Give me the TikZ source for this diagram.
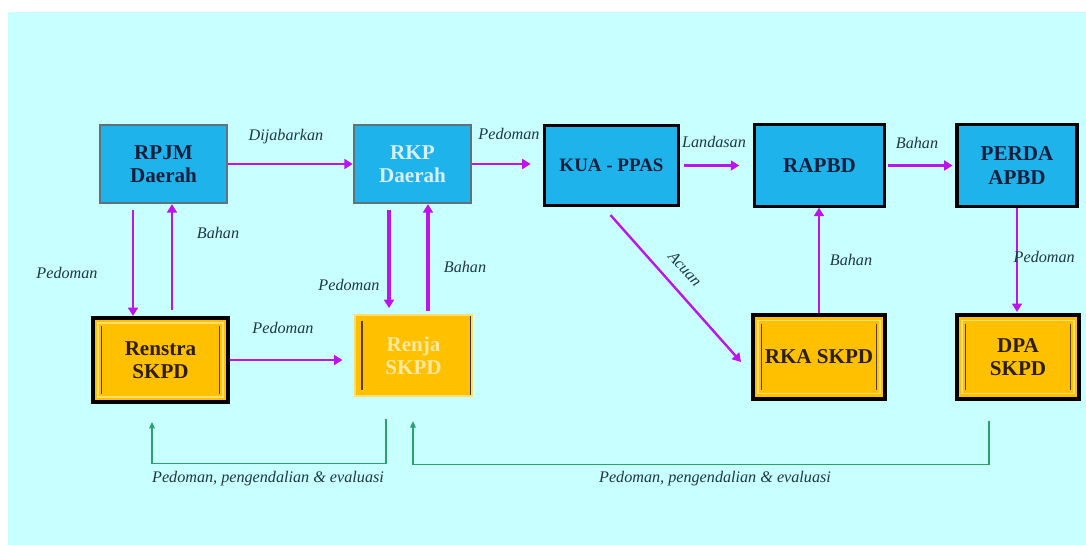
\documentclass[tikz,border=0pt]{standalone}
\usepackage{fontspec}
\setmainfont{Liberation Serif}
\usetikzlibrary{arrows.meta,positioning,calc}

\definecolor{bgcyan}{RGB}{200,255,255}
\definecolor{boxblue}{RGB}{30,180,235}
\definecolor{boxgold}{RGB}{255,192,0}
\definecolor{bevelgray}{RGB}{95,115,125}
\definecolor{flowmag}{RGB}{190,20,235}
\definecolor{ctrlgreen}{RGB}{45,160,110}
\definecolor{labelink}{RGB}{30,55,70}
\definecolor{navyink}{RGB}{20,30,60}
\definecolor{rkpink}{RGB}{215,240,255}
\definecolor{skpdink}{RGB}{45,30,5}
\definecolor{renjaink}{RGB}{255,232,160}
\definecolor{skpdrim}{RGB}{255,222,110}
\definecolor{skpdline}{RGB}{90,60,0}

\newcommand{\ppbfont}{\fontsize{15}{16.5}\selectfont\bfseries}
\newcommand{\pplfont}{\fontsize{11.5}{13}\selectfont\itshape}

\begin{document}
\begin{tikzpicture}[x=0.025cm, y=-0.025cm,
  topbox/.style={rectangle, fill=boxblue, align=center, inner sep=0pt,
                 font=\ppbfont, text=navyink},
  bevelbox/.style={topbox, draw=bevelgray, line width=1.6pt},
  kuabox/.style={topbox, draw=black, line width=2.2pt},
  skpdbox/.style={rectangle, fill=boxgold, draw=black, line width=2.8pt,
                  align=center, inner sep=0pt, font=\ppbfont, text=skpdink,
    path picture={
      \draw[skpdrim, line width=1pt]
        ([shift={(3.5pt,-3.5pt)}]path picture bounding box.north west) rectangle
        ([shift={(-3.5pt,3.5pt)}]path picture bounding box.south east);
      \draw[skpdline, line width=1pt]
        ([shift={(6pt,-6pt)}]path picture bounding box.north west) --
        ([shift={(6pt,6pt)}]path picture bounding box.south west);
      \draw[skpdline, line width=1pt]
        ([shift={(-6pt,-6pt)}]path picture bounding box.north east) --
        ([shift={(-6pt,6pt)}]path picture bounding box.south east);
    }},
  renjabox/.style={rectangle, fill=boxgold, draw=skpdrim, line width=1.6pt,
                   align=center, inner sep=0pt, font=\ppbfont, text=renjaink,
    path picture={
      \draw[skpdline, line width=1.2pt]
        ([shift={(5pt,-4pt)}]path picture bounding box.north west) --
        ([shift={(5pt,4pt)}]path picture bounding box.south west);
      \draw[black!80, line width=1.4pt]
        ([shift={(-1pt,0pt)}]path picture bounding box.north east) --
        ([shift={(-1pt,0pt)}]path picture bounding box.south east);
    }},
  flow/.style={draw=flowmag, line width=1.7pt, -{Triangle[length=6pt,width=7pt]}},
  bigflow/.style={flow, line width=2.4pt},
  ctrl/.style={draw=ctrlgreen, line width=0.8pt, -{Triangle[length=4.5pt,width=4pt]}},
  lbl/.style={font=\pplfont, text=labelink, inner sep=1pt},
]
  % Canvas
  \useasboundingbox (0,0) rectangle (1086,545);
  \fill[white] (0,0) rectangle (1086,545);
  \fill[bgcyan] (8,12) rectangle (1086,545);

  % Row y-coordinates
  \def\ytop{164}
  \def\ybot{357}

  % Planning documents (top row)
  \node[bevelbox, minimum width=3.18cm, minimum height=1.95cm] (rpjm) at (163.5,\ytop) {RPJM\\ Daerah};
  \node[bevelbox, text=rkpink, minimum width=2.93cm, minimum height=1.95cm] (rkp) at (412.5,\ytop) {RKP\\ Daerah};
  \node[kuabox, font=\fontsize{13.5}{15}\selectfont\bfseries, minimum width=3.33cm, minimum height=2.0cm] (kua) at (611.5,165.5) {KUA - PPAS};
  \node[kuabox, minimum width=3.23cm, minimum height=2.03cm] (rapbd) at (819.5,165.5) {RAPBD};
  \node[kuabox, minimum width=3.0cm, minimum height=2.03cm] (perda) at (1017,165.5) {PERDA\\ APBD};

  % SKPD documents (bottom row)
  \node[skpdbox, minimum width=3.38cm, minimum height=2.1cm] (renstra) at (160.5,360) {Renstra\\ SKPD};
  \node[renjabox, minimum width=2.93cm, minimum height=2.03cm] (renja) at (413.5,355.5) {Renja\\ SKPD};
  \node[skpdbox, minimum width=3.3cm, minimum height=2.08cm] (rka) at (819,\ybot) {RKA SKPD};
  \node[skpdbox, minimum width=3.05cm, minimum height=2.08cm] (dpa) at (1018,\ybot) {DPA\\ SKPD};

  % Top row flow
  \draw[flow] (rpjm) -- (rkp);
  \draw[flow, shorten >=9pt] (rkp.east) -- (rkp.east -| kua.west);
  \draw[flow, shorten <=3pt, shorten >=10pt] (kua) -- (rapbd);
  \draw[flow, shorten <=2pt, shorten >=2pt] (rapbd) -- (perda);

  % RPJM <-> Renstra
  \draw[flow, shorten <=4pt] (rpjm.south -| 133,0) -- (renstra.north -| 133,0);
  \draw[flow, shorten <=4pt] (renstra.north -| 172,0) -- (rpjm.south -| 172,0);

  % RKP <-> Renja
  \draw[bigflow, shorten <=4pt, shorten >=4pt] (rkp.south -| 389,0) -- (renja.north -| 389,0);
  \draw[bigflow, shorten <=2pt] (renja.north -| 428,0) -- (rkp.south -| 428,0);

  % Renstra -> Renja
  \draw[flow, shorten >=8pt] (renstra.east) -- (renja.west |- renstra.east);

  % KUA -> RKA, RKA -> RAPBD, PERDA -> DPA
  \draw[flow] ($(kua.south)+(-1,8)$) -- ($(rka.west)+(-10,5)$);
  \draw[flow] (rka.north) -- (rka.north |- rapbd.south);
  \draw[flow, shorten >=1pt] (perda.south) -- (perda.south |- dpa.north);

  % Control loops (green)
  \draw[ctrl] ($(renja.south)+(-27.5,22)$) -- ++(0,44) -| ($(renstra.south)+(-8.5,18)$);
  \draw[ctrl] ($(dpa.south)+(-29,20)$) -- ++(0,44) -| ($(renja.south)+(-0.5,24)$);

  % Labels
  \node[lbl] (lDijabarkan) at (286,137) {Dijabarkan};
  \node[lbl] (lPedKua) at (509,134) {Pedoman};
  \node[lbl] (lLandasan) at (714,142) {Landasan};
  \node[lbl] (lBahanPerda) at (917,143) {Bahan};
  \node[lbl] (lPedRenstra) at (67,273) {Pedoman};
  \node[lbl] (lBahanRpjm) at (218,233) {Bahan};
  \node[lbl] (lPedRenja) at (349,285) {Pedoman};
  \node[lbl] (lBahanRkp) at (465,267) {Bahan};
  \node[lbl] (lPedSkpd) at (283,328) {Pedoman};
  \node[lbl, rotate=-48] (lAcuan) at (685,269) {Acuan};
  \node[lbl] (lBahanRka) at (851,260) {Bahan};
  \node[lbl, anchor=west] (lPedDpa) at (1012,257) {Pedoman};
  \node[lbl] (lEvalA) at (268,479) {Pedoman, pengendalian \& evaluasi};
  \node[lbl] (lEvalB) at (715,479) {Pedoman, pengendalian \& evaluasi};
\end{tikzpicture}
\end{document}
